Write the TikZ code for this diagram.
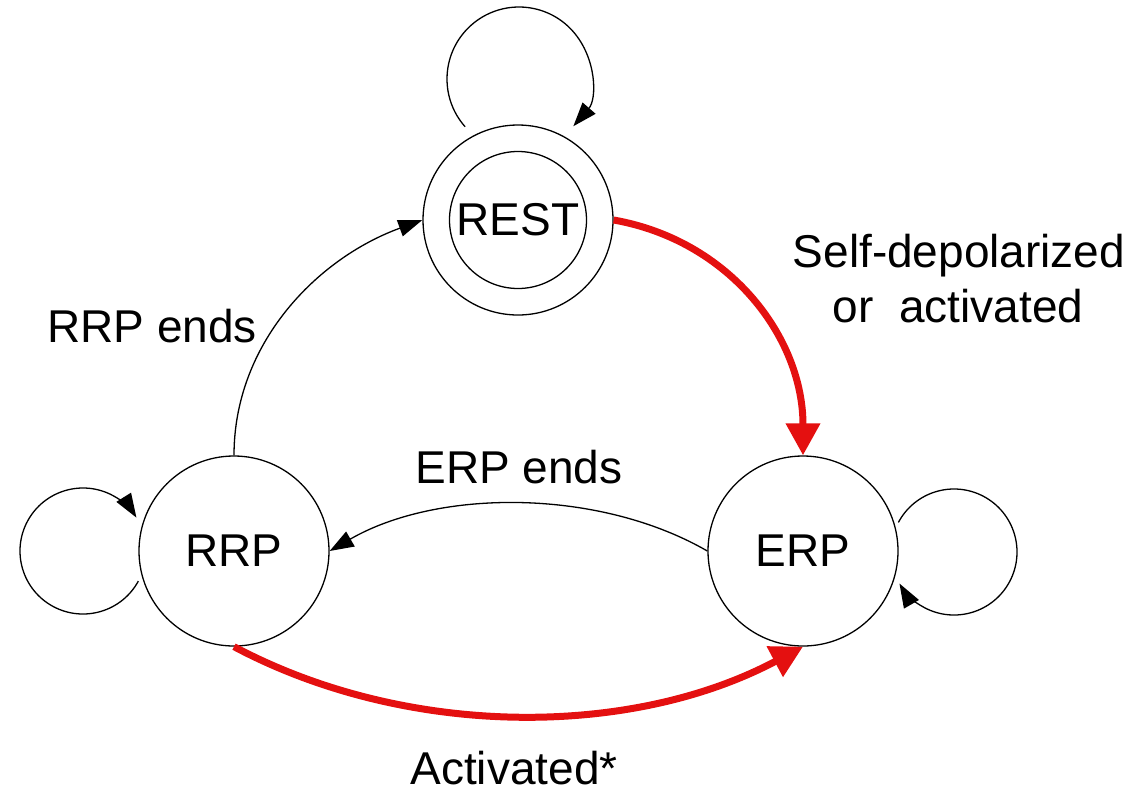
\documentclass[tikz,border=0pt]{standalone}
\usepackage{fontspec}
\setmainfont{Liberation Sans}
\usetikzlibrary{arrows.meta,calc}
\definecolor{tred}{RGB}{228,16,16}
\tikzset{
  state/.style={circle,draw,line width=1.3pt,minimum size=190pt,inner sep=0pt,font=\fontsize{46}{55}\selectfont},
  innerring/.style={circle,draw,line width=1.3pt,minimum size=137pt,inner sep=0pt,font=\fontsize{46}{55}\selectfont},
  lbl/.style={font=\fontsize{46}{55}\selectfont,anchor=base,inner sep=0pt},
  blackedge/.style={line width=1.3pt,-{Triangle[length=24pt,width=17pt]}},
  rededge/.style={draw=tred,line width=7pt,-{Triangle[length=32pt,width=33pt]}},
}
\begin{document}
\begin{tikzpicture}[x=1pt,y=1pt]
\useasboundingbox (0,0) rectangle (1140,-796);
% states
\node[state] (rest) at (518,-220) {};
\node[innerring] (restin) at (rest.center) {REST};
\node[state] (rrp) at (234,-551) {RRP};
\node[state] (erp) at (803,-551) {ERP};
% transitions
\draw[blackedge] (rrp.north) to[out=90,in=200,looseness=0.95] (rest.west);
\draw[blackedge] (erp.west) to[out=150,in=30,looseness=0.85] (rrp.east);
\draw[rededge] (rest.east) to[out=-10,in=90,looseness=1.0] (erp.north);
\draw[rededge] (rrp.south) to[out=-28,in=-152,looseness=0.88] (erp.south);
% self loops
\coordinate (lrest) at (519,-79);
\draw[blackedge] ($(lrest)+(221.5:72)$) arc[start angle=221.5,end angle=-41,radius=72];
\coordinate (lrrp) at (83,-551);
\draw[blackedge] ($(lrrp)+(-28.5:63)$) arc[start angle=-28.5,end angle=-328,radius=63];
\coordinate (lerp) at (954,-552);
\draw[blackedge] ($(lerp)+(152:63)$) arc[start angle=152,end angle=-150,radius=63];
% labels
\node[lbl] (l1) at (152,-342) {RRP ends};
\node[lbl] (l2) at (959,-267) {Self-depolarized};
\node[lbl] (l3) at (958,-322) {or\ \ activated};
\node[lbl] (l4) at (519,-483) {ERP ends};
\node[lbl] (l5) at (514,-784) {Activated*};
\end{tikzpicture}
\end{document}
